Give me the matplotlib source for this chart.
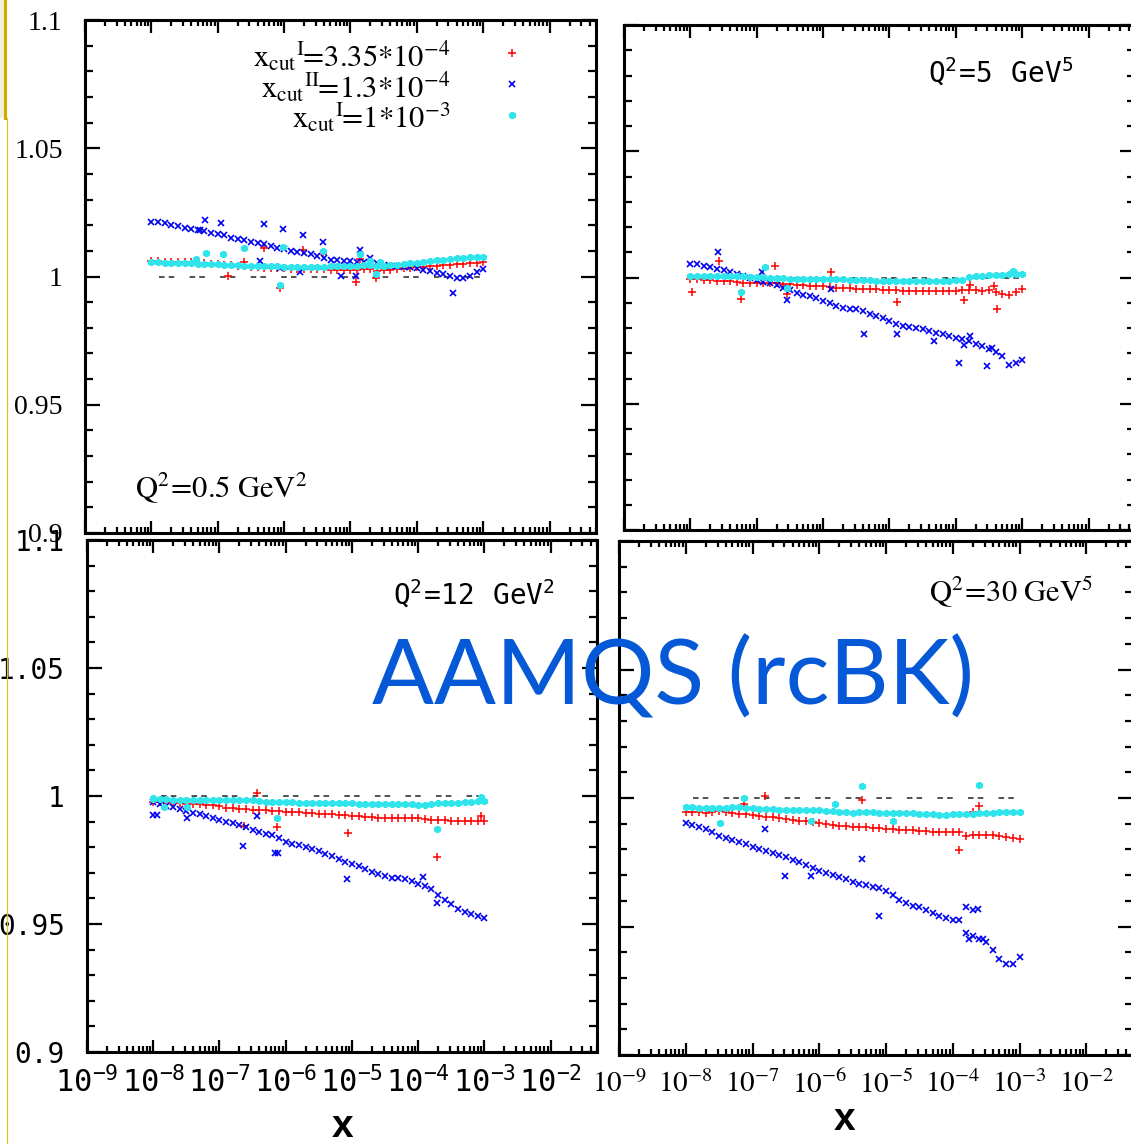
import numpy as np
import matplotlib
matplotlib.use("Agg")
import matplotlib.pyplot as plt
from matplotlib.ticker import FixedLocator, LogLocator, NullFormatter
from matplotlib.lines import Line2D
from matplotlib.patches import Rectangle

plt.rcParams['lines.scale_dashes'] = False

# ---------------- data ----------------
LOGX = [-8.0, -7.9, -7.8, -7.7, -7.6, -7.5, -7.4, -7.3, -7.2, -7.1,
        -7.0, -6.9, -6.8, -6.7, -6.6, -6.5, -6.4, -6.3, -6.2, -6.1,
        -6.0, -5.9, -5.8, -5.7, -5.6, -5.5, -5.4, -5.3, -5.2, -5.1,
        -5.0, -4.9, -4.8, -4.7, -4.6, -4.5, -4.4, -4.3, -4.2, -4.1,
        -4.0, -3.9, -3.8, -3.7, -3.6, -3.5, -3.4, -3.3, -3.2, -3.1, -3.0]

# Q2 = 0.5
TL_red = [1.0060, 1.0059, 1.0058, 1.0057, 1.0056, 1.0056, 1.0055, 1.0053, 1.0052, 1.0050,
          1.0048, 1.0046, 1.0044, 1.0042, 1.0040, 1.0038, 1.0036, 1.0035, 1.0033, 1.0032,
          1.0032, 1.0031, 1.0031, 1.0030, 1.0030, 1.0029, 1.0028, 1.0027, 1.0027, 1.0026,
          1.0026, 1.0027, 1.0028, 1.0029, 1.0020, 1.0024, 1.0027, 1.0030, 1.0033, 1.0035,
          1.0036, 1.0038, 1.0040, 1.0042, 1.0044, 1.0046, 1.0048, 1.0050, 1.0052, 1.0054, 1.0055]
TL_blue = [1.0214, 1.0211, 1.0207, 1.0202, 1.0197, 1.0190, 1.0184, 1.0183, 1.0178, 1.0170,
           1.0165, 1.0160, 1.0152, 1.0146, 1.0141, 1.0136, 1.0131, 1.0126, 1.0117, 1.0111,
           1.0107, 1.0101, 1.0096, 1.0090, 1.0086, 1.0080, 1.0074, 1.0066, 1.0063, 1.0062,
           1.0061, 1.0058, 1.0056, 1.0055, 1.0051, 1.0046, 1.0042, 1.0040, 1.0038, 1.0036,
           1.0032, 1.0026, 1.0020, 1.0014, 1.0008, 1.0002, 0.9993, 0.9995, 1.0002, 1.0018, 1.0030]
TL_cyan = [1.0055, 1.0055, 1.0054, 1.0054, 1.0053, 1.0053, 1.0052, 1.0050, 1.0049, 1.0048,
           1.0047, 1.0046, 1.0045, 1.0044, 1.0042, 1.0041, 1.0041, 1.0040, 1.0040, 1.0039,
           1.0038, 1.0038, 1.0038, 1.0038, 1.0038, 1.0038, 1.0038, 1.0039, 1.0039, 1.0040,
           1.0041, 1.0042, 1.0043, 1.0044, 1.0040, 1.0042, 1.0044, 1.0046, 1.0049, 1.0051,
           1.0053, 1.0057, 1.0060, 1.0063, 1.0066, 1.0069, 1.0071, 1.0073, 1.0075, 1.0076, 1.0077]
TL_red_out_x = [-6.84, -6.61, -6.31, -6.06, -5.71, -5.41, -4.91, -4.85, -4.61]
TL_red_out_y = [1.0003, 1.0057, 1.0113, 0.9957, 1.0103, 1.0087, 0.9979, 1.0070, 0.9996]
TL_blue_out_x = [-7.26, -7.19, -6.95, -6.31, -6.01, -5.71, -5.41, -6.36, -6.06, -5.76, -5.15, -4.91, -4.85, -4.70, -3.45]
TL_blue_out_y = [1.0180, 1.0219, 1.0207, 1.0204, 1.0185, 1.0163, 1.0133, 1.0059, 1.0035, 1.0016, 1.0003, 1.0003, 1.0103, 1.0074, 0.9937]
TL_cyan_out_x = [-7.32, -7.17, -6.92, -6.61, -6.06, -6.01, -5.41, -4.85, -4.70, -4.61, -4.55]
TL_cyan_out_y = [1.0070, 1.0090, 1.0087, 1.0113, 0.9967, 1.0116, 1.0100, 1.0087, 1.0059, 1.0009, 1.0055]

# Q2 = 5
TR_red = [0.9994, 0.9993, 0.9991, 0.9989, 0.9988, 0.9987, 0.9985, 0.9982, 0.9980, 0.9980,
          0.9980, 0.9979, 0.9979, 0.9977, 0.9975, 0.9973, 0.9971, 0.9970, 0.9968, 0.9966,
          0.9965, 0.9963, 0.9960, 0.9958, 0.9957, 0.9956, 0.9955, 0.9954, 0.9953, 0.9952,
          0.9951, 0.9950, 0.9948, 0.9947, 0.9948, 0.9947, 0.9947, 0.9946, 0.9947, 0.9946,
          0.9947, 0.9949, 0.9951, 0.9950, 0.9948, 0.9950, 0.9943, 0.9935, 0.9930, 0.9942, 0.9953]
TR_blue = [1.0055, 1.0052, 1.0047, 1.0041, 1.0034, 1.0028, 1.0022, 1.0014, 1.0006, 1.0000,
           0.9992, 0.9984, 0.9979, 0.9971, 0.9957, 0.9950, 0.9940, 0.9932, 0.9925, 0.9917,
           0.9908, 0.9900, 0.9888, 0.9880, 0.9876, 0.9874, 0.9868, 0.9857, 0.9846, 0.9838,
           0.9829, 0.9815, 0.9808, 0.9803, 0.9800, 0.9796, 0.9789, 0.9782, 0.9776, 0.9770,
           0.9760, 0.9755, 0.9747, 0.9738, 0.9727, 0.9717, 0.9704, 0.9689, 0.9655, 0.9660, 0.9672]
TR_cyan = [1.0007, 1.0007, 1.0007, 1.0006, 1.0006, 1.0006, 1.0006, 1.0005, 1.0004, 1.0003,
           1.0002, 1.0001, 0.9999, 0.9998, 0.9997, 0.9996, 0.9996, 0.9995, 0.9995, 0.9995,
           0.9994, 0.9994, 0.9994, 0.9993, 0.9992, 0.9991, 0.9990, 0.9989, 0.9988, 0.9988,
           0.9987, 0.9988, 0.9988, 0.9987, 0.9987, 0.9987, 0.9987, 0.9987, 0.9988, 0.9988,
           0.9989, 0.9992, 1.0003, 1.0005, 1.0006, 1.0008, 1.0010, 1.0011, 1.0013, 1.0013, 1.0013]
TR_red_out_x = [-7.97, -7.57, -7.23, -6.72, -6.54, -5.88, -4.88, -3.88, -3.78, -3.43, -3.38]
TR_red_out_y = [0.9944, 1.0067, 0.9915, 1.0044, 0.9934, 1.0023, 0.9904, 0.9911, 0.9971, 0.9967, 0.9875]
TR_blue_out_x = [-7.58, -6.92, -6.54, -5.88, -5.38, -4.88, -4.33, -3.95, -3.87, -3.78, -3.53, -3.45]
TR_blue_out_y = [1.0100, 1.0023, 0.9911, 0.9954, 0.9778, 0.9776, 0.9749, 0.9661, 0.9732, 0.9769, 0.9650, 0.9720]
TR_cyan_out_x = [-7.23, -6.88, -6.54, -3.14]
TR_cyan_out_y = [0.9941, 1.0043, 0.9957, 1.0027]

# Q2 = 12
BL_red = [0.9978, 0.9977, 0.9976, 0.9974, 0.9972, 0.9970, 0.9968, 0.9967, 0.9965, 0.9963,
          0.9960, 0.9955, 0.9952, 0.9951, 0.9949, 0.9947, 0.9946, 0.9945, 0.9943, 0.9941,
          0.9939, 0.9937, 0.9936, 0.9934, 0.9932, 0.9931, 0.9930, 0.9928, 0.9926, 0.9924,
          0.9923, 0.9921, 0.9919, 0.9917, 0.9915, 0.9914, 0.9914, 0.9915, 0.9916, 0.9916,
          0.9914, 0.9910, 0.9907, 0.9906, 0.9905, 0.9904, 0.9902, 0.9903, 0.9904, 0.9903, 0.9903]
BL_blue = [0.9978, 0.9970, 0.9962, 0.9956, 0.9949, 0.9940, 0.9934, 0.9928, 0.9921, 0.9915,
           0.9907, 0.9900, 0.9893, 0.9885, 0.9877, 0.9866, 0.9858, 0.9853, 0.9848, 0.9835,
           0.9822, 0.9814, 0.9807, 0.9801, 0.9793, 0.9784, 0.9775, 0.9765, 0.9755, 0.9744,
           0.9734, 0.9725, 0.9714, 0.9704, 0.9695, 0.9687, 0.9681, 0.9678, 0.9676, 0.9669,
           0.9655, 0.9648, 0.9636, 0.9615, 0.9594, 0.9579, 0.9560, 0.9548, 0.9538, 0.9531, 0.9524]
BL_cyan = [0.9990, 0.9988, 0.9987, 0.9986, 0.9985, 0.9985, 0.9984, 0.9984, 0.9985, 0.9986,
           0.9986, 0.9985, 0.9984, 0.9984, 0.9983, 0.9983, 0.9980, 0.9978, 0.9976, 0.9975,
           0.9975, 0.9975, 0.9974, 0.9974, 0.9973, 0.9973, 0.9973, 0.9972, 0.9972, 0.9971,
           0.9971, 0.9970, 0.9970, 0.9969, 0.9970, 0.9969, 0.9968, 0.9968, 0.9967, 0.9967,
           0.9966, 0.9966, 0.9970, 0.9971, 0.9972, 0.9973, 0.9974, 0.9976, 0.9978, 0.9980, 0.9982]
BL_red_out_x = [-6.43, -6.63, -6.13, -5.06, -3.71, -3.05]
BL_red_out_y = [1.0012, 0.9881, 0.9880, 0.9855, 0.9762, 0.9920]
BL_blue_out_x = [-8.00, -7.94, -7.49, -6.64, -6.44, -6.16, -6.12, -5.07, -3.92, -3.71]
BL_blue_out_y = [0.9925, 0.9925, 0.9916, 0.9805, 0.9920, 0.9776, 0.9776, 0.9675, 0.9684, 0.9581]
BL_cyan_out_x = [-8.00, -7.84, -7.49, -6.13, -3.71, -3.05]
BL_cyan_out_y = [0.9993, 0.9956, 0.9957, 0.9913, 0.9872, 0.9998]

# Q2 = 30
BR_red = [0.9946, 0.9945, 0.9944, 0.9943, 0.9946, 0.9950, 0.9946, 0.9941, 0.9939, 0.9936,
          0.9932, 0.9930, 0.9928, 0.9925, 0.9921, 0.9918, 0.9915, 0.9912, 0.9909, 0.9906,
          0.9903, 0.9897, 0.9894, 0.9892, 0.9890, 0.9888, 0.9887, 0.9886, 0.9884, 0.9882,
          0.9880, 0.9879, 0.9877, 0.9875, 0.9874, 0.9872, 0.9870, 0.9869, 0.9868, 0.9868,
          0.9869, 0.9869, 0.9853, 0.9855, 0.9857, 0.9857, 0.9856, 0.9852, 0.9848, 0.9845, 0.9842]
BR_blue = [0.9904, 0.9896, 0.9889, 0.9880, 0.9866, 0.9853, 0.9846, 0.9836, 0.9829, 0.9820,
           0.9811, 0.9803, 0.9795, 0.9786, 0.9777, 0.9770, 0.9760, 0.9751, 0.9738, 0.9727,
           0.9717, 0.9710, 0.9702, 0.9694, 0.9684, 0.9673, 0.9666, 0.9660, 0.9654, 0.9648,
           0.9638, 0.9622, 0.9605, 0.9592, 0.9580, 0.9574, 0.9564, 0.9553, 0.9542, 0.9533,
           0.9527, 0.9524, 0.9476, 0.9463, 0.9450, 0.9440, 0.9410, 0.9375, 0.9355, 0.9355, 0.9381]
BR_cyan = [0.9965, 0.9964, 0.9963, 0.9962, 0.9961, 0.9961, 0.9962, 0.9964, 0.9965, 0.9963,
           0.9961, 0.9959, 0.9957, 0.9956, 0.9955, 0.9955, 0.9954, 0.9954, 0.9953, 0.9953,
           0.9952, 0.9950, 0.9948, 0.9945, 0.9944, 0.9943, 0.9945, 0.9946, 0.9944, 0.9943,
           0.9943, 0.9942, 0.9942, 0.9943, 0.9940, 0.9938, 0.9937, 0.9936, 0.9935, 0.9935,
           0.9936, 0.9937, 0.9936, 0.9937, 0.9941, 0.9943, 0.9943, 0.9944, 0.9944, 0.9945, 0.9946]
BR_red_out_x = [-7.12, -6.82, -5.36, -3.90, -3.70, -3.60]
BR_red_out_y = [0.9978, 1.0008, 0.9991, 0.9796, 0.9946, 0.9968]
BR_blue_out_x = [-6.82, -6.51, -6.13, -5.36, -5.10, -3.80, -3.75, -3.70, -3.62, -3.55]
BR_blue_out_y = [0.9881, 0.9695, 0.9695, 0.9761, 0.9540, 0.9576, 0.9453, 0.9565, 0.9567, 0.9453]
BR_cyan_out_x = [-7.12, -7.48, -6.13, -5.76, -5.36, -4.90, -3.60]
BR_cyan_out_y = [1.0000, 0.9904, 0.9909, 0.9975, 1.0045, 0.9909, 1.0049]

REF_X = [1.3e-8, 1.0e-3]
REF_Y = [1.0, 1.0]

Y_TICKS = [0.9, 0.95, 1.0, 1.05, 1.1]
Y_TICKLABELS = ['0.9', '0.95', '1', '1.05', '1.1']
X_DECADES = [-9, -8, -7, -6, -5, -4, -3, -2]

# ---------------- style ----------------
W, H = 1131, 1144
RED, BLUE, CYAN = '#ff0000', '#0000f0', '#30e4ec'
SERIF = 'Liberation Serif'
MONO = 'DejaVu Sans Mono'

fig = plt.figure(figsize=(W / 100, H / 100), dpi=100)
fig.patch.set_facecolor('white')


def add_ax(l, r, t, b):
    return fig.add_axes([l / W, 1 - b / H, (r - l) / W, (b - t) / H])


def pw(v):
    return [10.0 ** e for e in v]


def draw_panel(ax, red, blue, cyan, rout, bout, cout):
    ax.plot(REF_X, REF_Y, color='#333333', lw=1.2, dashes=(4, 3, 4, 11), zorder=1)
    kw = dict(ls='none', zorder=2)
    ax.plot(pw(LOGX), red, marker='+', ms=5.5, mew=1.1, color=RED, **kw)
    ax.plot(pw(rout[0]), rout[1], marker='+', ms=5.5, mew=1.1, color=RED, **kw)
    ax.plot(pw(LOGX), blue, marker='x', ms=4.5, mew=1.2, color=BLUE, **kw)
    ax.plot(pw(bout[0]), bout[1], marker='x', ms=4.5, mew=1.2, color=BLUE, **kw)
    ax.plot(pw(LOGX), cyan, marker=(6, 2, 0), ms=5, mew=1.9, color=CYAN, **kw)
    ax.plot(pw(cout[0]), cout[1], marker=(6, 2, 0), ms=5, mew=1.9, color=CYAN, **kw)

    ax.set_xscale('log')
    ax.set_xlim(1e-9, 10 ** -1.3)
    ax.set_ylim(0.9, 1.1)
    ax.xaxis.set_major_locator(FixedLocator(pw(X_DECADES)))
    ax.xaxis.set_minor_locator(LogLocator(base=10, subs=[2, 3, 4, 5, 6, 7, 8, 9], numticks=30))
    ax.xaxis.set_minor_formatter(NullFormatter())
    ax.set_yticks(Y_TICKS)
    ax.yaxis.set_minor_locator(FixedLocator([0.91, 0.92, 0.93, 0.94, 0.96, 0.97, 0.98, 0.99,
                                             1.01, 1.02, 1.03, 1.04, 1.06, 1.07, 1.08, 1.09]))
    for s in ax.spines.values():
        s.set_linewidth(2.2)
    ax.tick_params(which='both', direction='in', top=True, right=True, width=1.6, color='black')
    ax.tick_params(axis='x', which='major', length=9)
    ax.tick_params(axis='x', which='minor', length=4.5)
    ax.tick_params(axis='y', which='major', length=11)
    ax.tick_params(axis='y', which='minor', length=6)
    ax.set_facecolor('none')


axTL = add_ax(85, 596, 20, 533)
axTR = add_ax(624, 1135, 25, 530)
axBL = add_ax(87, 597, 540, 1052)
axBR = add_ax(619, 1133, 541, 1055)

draw_panel(axTL, TL_red, TL_blue, TL_cyan, (TL_red_out_x, TL_red_out_y),
           (TL_blue_out_x, TL_blue_out_y), (TL_cyan_out_x, TL_cyan_out_y))
draw_panel(axTR, TR_red, TR_blue, TR_cyan, (TR_red_out_x, TR_red_out_y),
           (TR_blue_out_x, TR_blue_out_y), (TR_cyan_out_x, TR_cyan_out_y))
draw_panel(axBL, BL_red, BL_blue, BL_cyan, (BL_red_out_x, BL_red_out_y),
           (BL_blue_out_x, BL_blue_out_y), (BL_cyan_out_x, BL_cyan_out_y))
draw_panel(axBR, BR_red, BR_blue, BR_cyan, (BR_red_out_x, BR_red_out_y),
           (BR_blue_out_x, BR_blue_out_y), (BR_cyan_out_x, BR_cyan_out_y))

# tick labels
for ax in (axTL, axTR):
    ax.set_xticklabels([])
for ax in (axTR, axBR):
    ax.set_yticklabels([])

axTL.set_yticklabels(Y_TICKLABELS, fontfamily=SERIF, fontsize=20)
axTL.tick_params(axis='y', pad=16)
axBL.set_yticklabels(Y_TICKLABELS, fontfamily=MONO, fontsize=20)
axBL.tick_params(axis='y', pad=16)

mono_xl = [r'$\mathtt{10}^{\mathtt{-%d}}$' % (-d) for d in X_DECADES]
serif_xl = [r'$\mathrm{10}^{\mathrm{-%d}}$' % (-d) for d in X_DECADES]
axBL.set_xticklabels(mono_xl, fontsize=22)
axBL.tick_params(axis='x', pad=10)
axBR.set_xticklabels(serif_xl, fontsize=21)
for t in axBR.get_xticklabels():
    t.set_math_fontfamily('stix')
axBR.tick_params(axis='x', pad=11)

# Q^2 labels
axTL.text(0.098, 0.07, r'$\mathrm{Q^{2}\!=\!0.5\ GeV^{2}}$', transform=axTL.transAxes,
          fontsize=22, math_fontfamily='stix', ha='left', va='baseline')
axTR.text(0.594, 0.885, r'$\mathtt{Q}^{\mathtt{2}}\!\mathtt{=}\!\mathtt{5\ \ GeV}^{\mathtt{5}}$',
          transform=axTR.transAxes, fontsize=20, ha='left', va='baseline')
axBL.text(0.60, 0.874, r'$\mathtt{Q}^{\mathtt{2}}\!\mathtt{=}\!\mathtt{12\ \ GeV}^{\mathtt{2}}$',
          transform=axBL.transAxes, fontsize=20, ha='left', va='baseline')
axBR.text(0.603, 0.880, r'$\mathrm{Q^{2}\!=\!30\ GeV^{5}}$', transform=axBR.transAxes,
          fontsize=22, math_fontfamily='stix', ha='left', va='baseline')

# legend (manual, gnuplot style: right-aligned text, marker at the right)
LEG = [(r'$\mathrm{x_{cut}{}^{I}\!\!=\!3.35{*}10^{-4}}$', '+', RED, 1.1, 5.5),
       (r'$\mathrm{x_{cut}{}^{II}\!\!=\!1.3{*}10^{-4}}$', 'x', BLUE, 1.2, 4.5),
       (r'$\mathrm{x_{cut}{}^{I}\!\!=\!1{*}10^{-3}}$', (6, 2, 0), CYAN, 1.9, 5)]
for i, (lab, mk, col, mew, ms) in enumerate(LEG):
    yy = 0.93 - i * 0.06
    axTL.text(0.714, yy, lab, transform=axTL.transAxes, fontsize=22, math_fontfamily='stix',
              ha='right', va='center')
    axTL.plot([0.836], [yy + 0.005], transform=axTL.transAxes, marker=mk, ms=ms, mew=mew,
              color=col, ls='none')

# axis titles "x"
fig.text(343 / W, 1 - 1127 / H, 'x', fontsize=28, fontweight='bold', family='Liberation Sans',
         ha='center', va='center')
fig.text(845 / W, 1 - 1120 / H, 'x', fontsize=28, fontweight='bold', family='Liberation Sans',
         ha='center', va='center')

# slide overlay title
fig.text(673 / W, 1 - 705 / H, 'AAMQS (rcBK)', color='#0558d6', fontsize=66, family='Lato',
         ha='center', va='baseline', zorder=20)

# slide decoration at left edge
fig.add_artist(Rectangle((0, 1 - 118 / H), 6 / W, 118 / H, transform=fig.transFigure,
                         facecolor='#eef0dc', edgecolor='none', zorder=30))
fig.add_artist(Line2D([5 / W, 5 / W], [1, 1 - 118 / H], transform=fig.transFigure,
                      color='#d2a800', lw=2.2, zorder=31))
fig.add_artist(Line2D([6.5 / W, 6.5 / W], [1 - 118 / H, 0], transform=fig.transFigure,
                      color='#e2bb3a', lw=0.9, zorder=31))

fig.savefig('out.png', dpi=100)
